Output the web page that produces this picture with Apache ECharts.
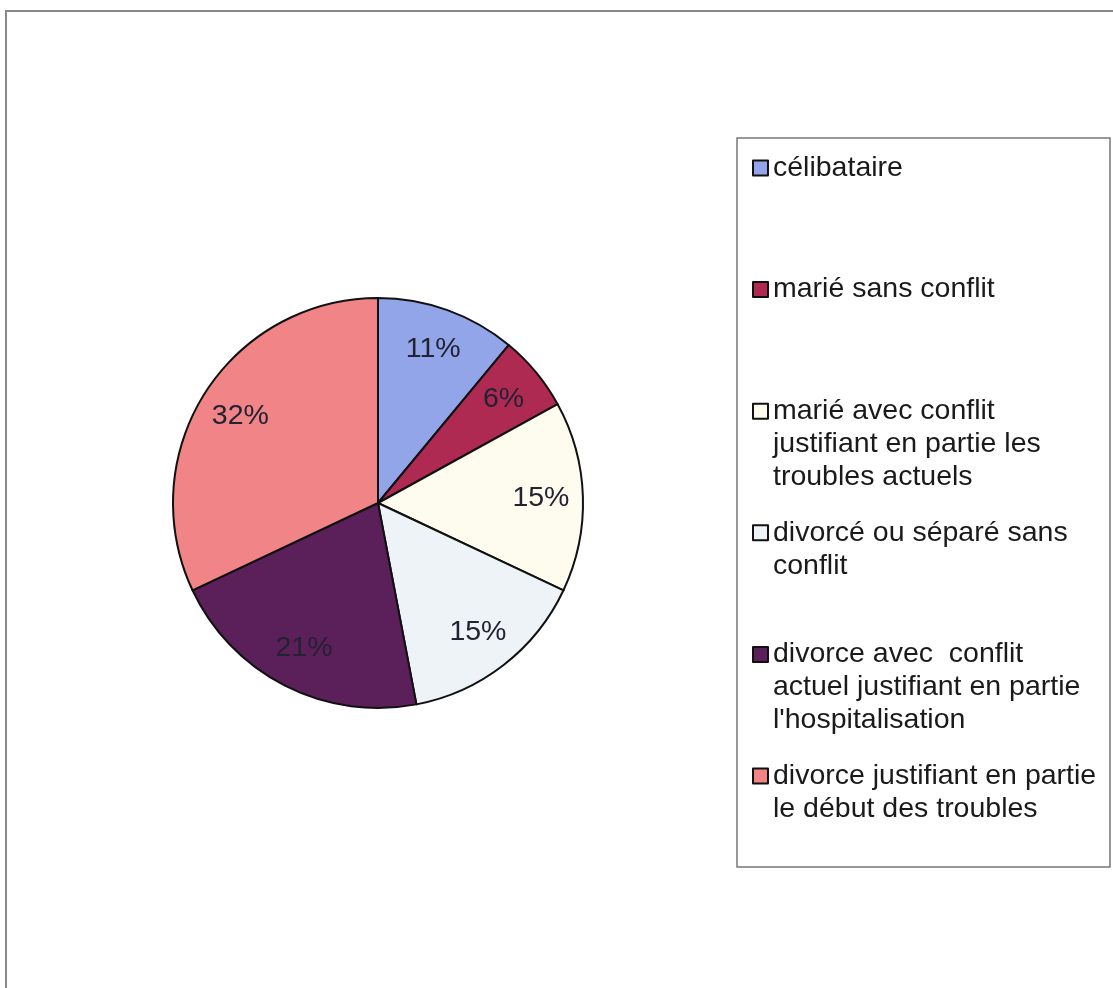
<!DOCTYPE html>
<html>
<head>
<meta charset="utf-8">
<script src="https://cdn.jsdelivr.net/npm/echarts@6/dist/echarts.min.js"></script>
<style>
html,body{margin:0;padding:0;background:#fff;}
#chart{width:1113px;height:988px;}
</style>
</head>
<body>
<div id="chart"></div>
<script>
var categories = [
  "célibataire",
  "marié sans conflit",
  "marié avec conflit justifiant en partie les troubles actuels",
  "divorcé ou séparé sans conflit",
  "divorce avec  conflit actuel justifiant en partie l'hospitalisation",
  "divorce justifiant en partie le début des troubles"
];
var legendLabels = [
  "célibataire",
  "marié sans conflit",
  "marié avec conflit\njustifiant en partie les\ntroubles actuels",
  "divorcé ou séparé sans\nconflit",
  "divorce avec  conflit\nactuel justifiant en partie\nl'hospitalisation",
  "divorce justifiant en partie\nle début des troubles"
];
var values = [11, 6, 15, 15, 21, 32];
var colors = ["#91a5e8", "#ae2a52", "#fdfcee", "#eef3f8", "#5b1f59", "#f08486"];

var FONT = "'Liberation Sans', Arial, sans-serif";
var LINE_H = 33;
var LEGEND_TOP = 150.5;
var LEGEND_STEP = 121.6;

var pieData = categories.map(function (c, i) {
  return { name: c, value: values[i], itemStyle: { color: colors[i] } };
});
var labelData = categories.map(function (c, i) {
  return { name: c, value: values[i] };
});

// one legend block per entry; icon square sits on the first text line
var legends = categories.map(function (c, i) {
  var n = legendLabels[i].split('\n').length;
  var h = n * LINE_H;
  var sq = (LINE_H - 15) / 2;
  return {
    orient: 'vertical',
    left: 752,
    top: LEGEND_TOP + i * LEGEND_STEP,
    padding: 0,
    itemWidth: 15,
    itemHeight: h,
    icon: 'path://M0,0M0,' + sq + 'h15v15h-15zM15,' + h,
    data: [c],
    selectedMode: false,
    formatter: function (name) {
      return legendLabels[categories.indexOf(name)];
    },
    textStyle: {
      fontFamily: FONT,
      fontSize: 28.5,
      lineHeight: LINE_H,
      color: '#1a1a1a'
    }
  };
});

var chart = echarts.init(document.getElementById('chart'), null, { renderer: 'canvas' });
chart.setOption({
  backgroundColor: '#ffffff',
  animation: false,
  graphic: [
    { type: 'rect', z: -10, shape: { x: 6, y: 11, width: 1300, height: 1200 },
      style: { fill: 'none', stroke: '#888888', lineWidth: 2 } },
    { type: 'rect', z: -10, shape: { x: 737, y: 138, width: 373, height: 729 },
      style: { fill: 'none', stroke: '#777777', lineWidth: 1.5 } }
  ],
  legend: legends,
  series: [
    {
      type: 'pie',
      center: [378, 503],
      radius: [0, 205],
      startAngle: 90,
      clockwise: true,
      silent: true,
      itemStyle: { borderColor: '#111111', borderWidth: 2 },
      label: { show: false },
      labelLine: { show: false },
      data: pieData
    },
    {
      type: 'pie',
      center: [378, 503],
      radius: [115, 205],
      startAngle: 90,
      clockwise: true,
      silent: true,
      itemStyle: { color: 'rgba(0,0,0,0)', borderWidth: 0 },
      label: {
        show: true,
        position: 'inside',
        formatter: '{d}%',
        fontFamily: FONT,
        fontSize: 28.5,
        color: '#222233'
      },
      labelLine: { show: false },
      data: labelData
    }
  ]
});
</script>
</body>
</html>
